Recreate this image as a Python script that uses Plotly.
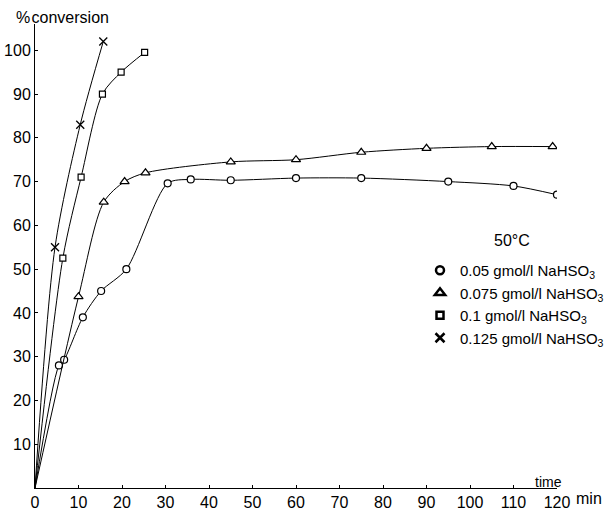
import plotly.graph_objects as go

# ---- data ----
t_005 = [5.5, 6.7, 11, 15.2, 21, 30.5, 35.8, 45, 60, 75, 95, 110, 120]
c_005 = [28, 29.3, 39, 45, 50, 69.6, 70.5, 70.3, 70.8, 70.8, 70, 69, 67]

t_0075 = [10, 15.8, 20.6, 25.4, 45, 60, 75, 90, 105, 119]
c_0075 = [43.7, 65.3, 70, 72, 74.5, 75, 76.7, 77.6, 78, 78]

t_01 = [6.4, 10.6, 15.5, 19.8, 25.2]
c_01 = [52.5, 71, 90, 95, 99.5]

t_0125 = [4.6, 10.4, 15.7]
c_0125 = [55, 83, 102]

series_names = [
    "0.05 gmol/l NaHSO<sub>3</sub>",
    "0.075 gmol/l NaHSO<sub>3</sub>",
    "0.1 gmol/l NaHSO<sub>3</sub>",
    "0.125 gmol/l NaHSO<sub>3</sub>",
]
x_ticks = [0, 10, 20, 30, 40, 50, 60, 70, 80, 90, 100, 110, 120]
y_ticks = [10, 20, 30, 40, 50, 60, 70, 80, 90, 100]

FONT = "Liberation Sans, Arial, sans-serif"
W, H = 607, 510
ML, MR, MT, MB = 35, 50, 24, 22

def px(xp):
    return (xp - ML) / (W - ML - MR)

def py(yp):
    return (H - MB - yp) / (H - MT - MB)

fig = go.Figure()

sets = [
    (t_005, c_005, "circle-open", 7, 1.2),
    (t_0075, c_0075, "triangle-up-open", 8, 1.2),
    (t_01, c_01, "square-open", 6, 1.2),
    (t_0125, c_0125, "x-thin-open", 8, 1.3),
]

for (t, c, sym, sz, lw), name in zip(sets, series_names):
    fig.add_trace(go.Scatter(
        x=[0] + t, y=[0] + c, mode="lines",
        line=dict(color="black", width=1, shape="spline", smoothing=0.8),
        showlegend=False, hoverinfo="skip"))
    fig.add_trace(go.Scatter(
        x=t, y=c, mode="markers",
        marker=dict(symbol=sym.replace("-open", ""), size=sz, color="white",
                    line=dict(color="black", width=lw)),
        showlegend=False))
    # legend-only entry with bold glyph
    fig.add_trace(go.Scatter(
        x=[None], y=[None], mode="markers", name=name,
        marker=dict(symbol=sym.replace("-open", ""), size=sz + 1, color="white",
                    line=dict(color="black", width=2.5))))

fig.update_layout(
    width=W, height=H,
    margin=dict(l=ML, r=MR, t=MT, b=MB, autoexpand=False),
    paper_bgcolor="white", plot_bgcolor="white",
    font=dict(family=FONT, size=16, color="black"),
    showlegend=True,
    legend=dict(x=px(420), y=py(254), xanchor="left", yanchor="top",
                bgcolor="rgba(0,0,0,0)", font=dict(size=15),
                itemwidth=30, tracegroupgap=0),
    xaxis=dict(range=[0, 120], tickvals=x_ticks, showgrid=False, automargin=False,
               zeroline=False, showline=True, linecolor="black", linewidth=1,
               ticks="inside", ticklen=3, tickcolor="black"),
    yaxis=dict(range=[0, 106], tickvals=y_ticks, showgrid=False, automargin=False,
               zeroline=False, showline=True, linecolor="black", linewidth=1,
               ticks="inside", ticklen=3, tickcolor="black"),
    annotations=[
        dict(text="%\u200aconversion", x=px(14), y=py(18), xref="paper", yref="paper",
             xanchor="left", yanchor="middle", showarrow=False, font=dict(size=16)),
        dict(text="time", x=px(548), y=py(482), xref="paper", yref="paper",
             xanchor="center", yanchor="middle", showarrow=False, font=dict(size=14)),
        dict(text="min", x=px(574), y=py(498), xref="paper", yref="paper",
             xanchor="left", yanchor="middle", showarrow=False, font=dict(size=16)),
        dict(text="50°C", x=px(512), y=py(240), xref="paper", yref="paper",
             xanchor="center", yanchor="middle", showarrow=False, font=dict(size=16)),
    ],
)

fig.write_html("out.html")
